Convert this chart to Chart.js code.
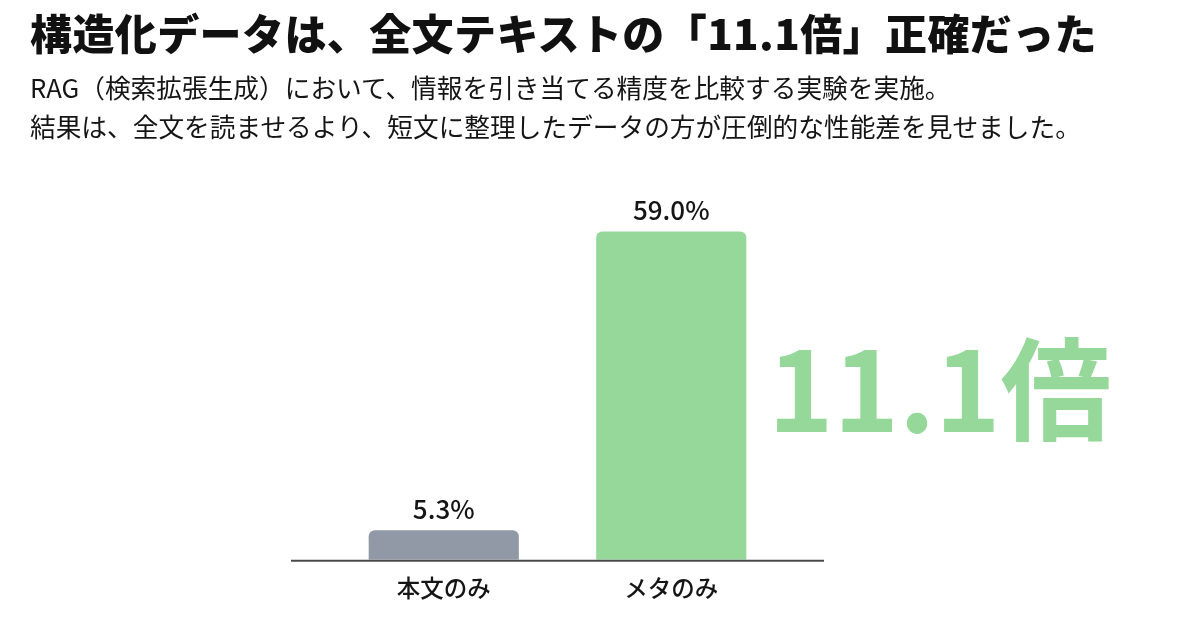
<!DOCTYPE html>
<html lang="ja">
<head>
<meta charset="utf-8">
<script src="https://cdn.jsdelivr.net/npm/chart.js@4.4.1/dist/chart.umd.min.js"></script>
<style>
  html, body { margin: 0; padding: 0; background: #fff; }
  body { width: 1200px; height: 628px; position: relative; overflow: hidden;
    font-family: "Noto Sans CJK JP", "Noto Sans", sans-serif; color: #111; }
  #title { position: absolute; left: 30px; top: 1px; margin: 0;
    font-size: 42px; font-weight: 900; letter-spacing: 0.4px; white-space: nowrap; }
  #sub { position: absolute; left: 30px; top: 67px; margin: 0;
    font-size: 25.7px; line-height: 39px; color: #151515; white-space: nowrap; }
  #wrap { position: absolute; left: 0; top: 0; width: 1200px; height: 628px; }
  #big { position: absolute; left: 768px; top: 328px; margin: 0;
    font-size: 111px; font-weight: 700; color: #95d89a; line-height: 1; white-space: nowrap; }
</style>
</head>
<body>
<div id="wrap"><canvas id="chart" width="1200" height="628"></canvas></div>
<h1 id="title">構造化データは、全文テキストの「11.1倍」正確だった</h1>
<p id="sub">RAG（検索拡張生成）において、情報を引き当てる精度を比較する実験を実施。<br>結果は、全文を読ませるより、短文に整理したデータの方が圧倒的な性能差を見せました。</p>
<div id="big">11.1倍</div>
<script>
// データ
const categories = ['本文のみ', 'メタのみ'];
const accuracy = [5.3, 59.0];
const barColors = ['#9199a6', '#95d89a'];

// 値ラベル + ベースライン
const valueLabels = {
  id: 'valueLabels',
  afterDatasetsDraw(chart) {
    const ctx = chart.ctx;
    const meta = chart.getDatasetMeta(0);
    ctx.save();
    ctx.font = '500 26px "Noto Sans CJK JP", "Noto Sans", sans-serif';
    ctx.fillStyle = '#151515';
    ctx.textAlign = 'center';
    ctx.textBaseline = 'bottom';
    meta.data.forEach((bar, i) => {
      ctx.fillText(accuracy[i].toFixed(1) + '%', bar.x, bar.y - 8);
    });
    // 軸線（バーの外側まで伸ばす）
    const y0 = chart.scales.y.getPixelForValue(0);
    const a = chart.chartArea;
    ctx.strokeStyle = '#4a4a4a';
    ctx.lineWidth = 2;
    ctx.beginPath();
    ctx.moveTo(a.left - 39, y0 + 1);
    ctx.lineTo(a.right + 39, y0 + 1);
    ctx.stroke();
    ctx.restore();
  }
};

new Chart(document.getElementById('chart').getContext('2d'), {
  type: 'bar',
  data: {
    labels: categories,
    datasets: [{
      data: accuracy,
      backgroundColor: barColors,
      borderRadius: { topLeft: 6, topRight: 6 },
      borderSkipped: 'bottom',
      barPercentage: 0.66,
      categoryPercentage: 1
    }]
  },
  options: {
    responsive: false,
    animation: false,
    devicePixelRatio: 1,
    layout: { padding: { left: 330, right: 415, top: 198, bottom: 20 } },
    plugins: { legend: { display: false }, tooltip: { enabled: false } },
    scales: {
      y: { display: false, min: 0, max: 65 },
      x: {
        grid: { display: false },
        border: { display: false },
        ticks: {
          color: '#151515',
          padding: 6,
          font: { family: '"Noto Sans CJK JP", "Noto Sans", sans-serif', size: 23.5, weight: '500' }
        }
      }
    }
  },
  plugins: [valueLabels]
});
</script>
</body>
</html>
